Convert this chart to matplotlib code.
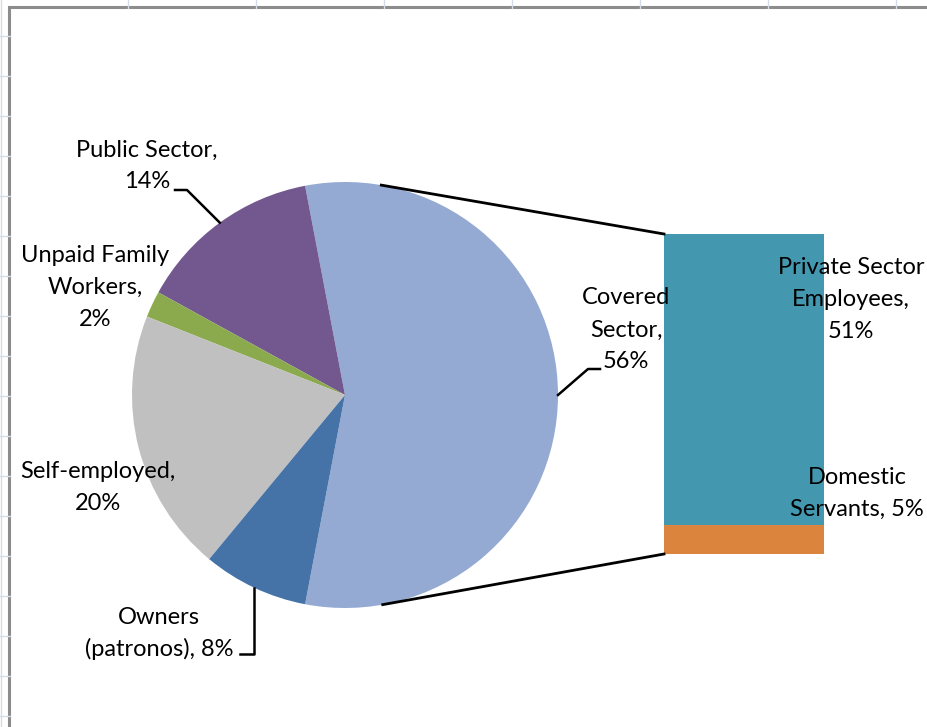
import numpy as np
import matplotlib.pyplot as plt
from matplotlib.patches import Rectangle

# pie shares (%), the first one is broken out into the bar on the right
sectors = ['Covered Sector', 'Public Sector', 'Unpaid Family Workers',
           'Self-employed', 'Owners (patronos)']
shares = [56, 14, 2, 20, 8]
sector_labels = ['Covered\nSector,\n{}%', 'Public Sector,\n{}%',
                 'Unpaid Family\nWorkers,\n{}%', 'Self-employed,\n{}%',
                 'Owners\n(patronos), {}%']
sector_colors = ['#94AAD2', '#73588F', '#8BAA4E', '#C0C0C0', '#4572A7']

covered = ['Private Sector Employees', 'Domestic Servants']
covered_shares = [51, 5]
covered_labels = ['Private Sector\nEmployees,\n{}%', 'Domestic\nServants, {}%']
covered_colors = ['#4398B0', '#DB843D']

W, H = 928, 727
plt.rcParams['font.family'] = ['Lato', 'DejaVu Sans']

fig = plt.figure(figsize=(W / 100, H / 100), dpi=100)
fig.patch.set_facecolor('white')

# worksheet grid peeking out around the chart frame
grid_c = '#D5DCE8'
for gx in range(128, W, 128):
    fig.add_artist(plt.Line2D([gx / W, gx / W], [1 - 8 / H, 1], color=grid_c, lw=1))
for gy in range(36, H, 40):
    fig.add_artist(plt.Line2D([0, 10 / W], [1 - gy / H, 1 - gy / H], color=grid_c, lw=1))
fig.add_artist(plt.Line2D([1.5 / W, 1.5 / W], [0, 1], color=grid_c, lw=1))

ax = fig.add_axes([0, 0, 1, 1])
ax.add_patch(Rectangle((9, -20), W + 40, H - 7 + 20, facecolor='white',
                       edgecolor='#8C8C8C', lw=2.2, zorder=0))

cx, cy, r = 345, H - 395, 213
start = -shares[0] * 360 / 100 / 2
wedges, _ = ax.pie(shares, colors=sector_colors, startangle=start,
                   counterclock=True, center=(cx, cy), radius=r,
                   wedgeprops=dict(linewidth=0))

# stacked bar for the covered sector
bar_x, bar_w, bar_bottom, bar_h = 744, 160, H - 554, 320
scale = bar_h / sum(covered_shares)
bottom = bar_bottom
for name, val, col in zip(covered[::-1], covered_shares[::-1], covered_colors[::-1]):
    ax.bar(bar_x, val * scale, width=bar_w, bottom=bottom, color=col, lw=0, zorder=2)
    bottom += val * scale


def tangent_point(px, py, upper):
    # point on the pie circle where a line from (px, py) touches it
    dx, dy = px - cx, py - cy
    d = np.hypot(dx, dy)
    base = np.arctan2(dy, dx)
    off = np.arccos(r / d)
    a = base + off if upper else base - off
    return cx + r * np.cos(a), cy + r * np.sin(a)


top_corner = (bar_x - bar_w / 2, bar_bottom + bar_h)
bot_corner = (bar_x - bar_w / 2, bar_bottom)
for corner, upper in [(top_corner, True), (bot_corner, False)]:
    tx, ty = tangent_point(*corner, upper)
    ax.plot([tx, corner[0]], [ty, corner[1]], color='black', lw=2.0, zorder=3)


def edge_point(w):
    a = np.deg2rad((w.theta1 + w.theta2) / 2)
    return cx + r * np.cos(a), cy + r * np.sin(a)


def put_label(text, x, y_top, step=32):
    for i, line in enumerate(text.split('\n')):
        ax.text(x, H - (y_top + i * step), line, ha='center', va='center',
                fontsize=17, color='black', zorder=4)


# label positions (x centre, first line y in pixels from the top)
sector_pos = [(626, 298), (147, 150), (95, 255), (98, 471), (159, 617)]
for w, txt, val, (lx, ly) in zip(wedges, sector_labels, shares, sector_pos):
    put_label(txt.format(val), lx, ly)

covered_pos = [(851, 268), (857, 477)]
for txt, val, (lx, ly) in zip(covered_labels, covered_shares, covered_pos):
    put_label(txt.format(val), lx, ly)

# leader lines
ex, ey = edge_point(wedges[1])
ax.plot([175, 187, ex], [H - 190, H - 190, ey], color='black', lw=1.8, zorder=3)
ex, ey = edge_point(wedges[0])
ax.plot([600, 588, ex], [H - 369, H - 369, ey], color='black', lw=1.8, zorder=3)
ex, ey = edge_point(wedges[4])
ax.plot([240, ex, ex], [H - 654, H - 654, ey], color='black', lw=1.8, zorder=3)

ax.set_xlim(0, W)
ax.set_ylim(0, H)
ax.axis('off')

fig.savefig('out.png', dpi=100)
